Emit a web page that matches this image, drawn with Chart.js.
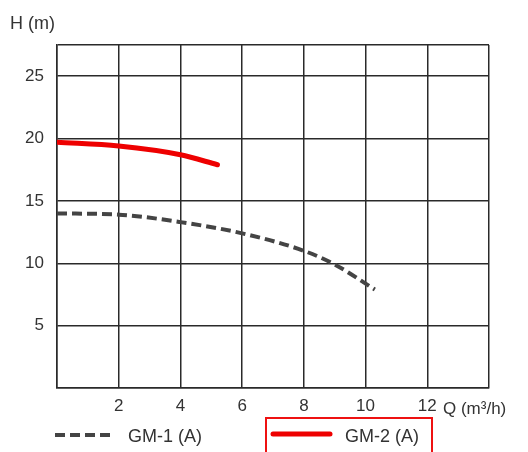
<!DOCTYPE html>
<html>
<head>
<meta charset="utf-8">
<script src="https://cdn.jsdelivr.net/npm/chart.js@4/dist/chart.umd.min.js"></script>
<style>
  html, body { margin: 0; padding: 0; background: #fff; }
  #wrap { width: 528px; height: 452px; position: relative; }
</style>
</head>
<body>
<div id="wrap"><canvas id="c" width="528" height="452"></canvas></div>
<script>
// pump curves, Q (m3/h) vs H (m)
const gm1Q = [0, 2, 4, 6, 8, 9, 10.3];
const gm1H = [14.0, 13.9, 13.3, 12.4, 11.0, 9.9, 7.9];
const gm2Q = [0, 2, 4, 5.2];
const gm2H = [19.7, 19.4, 18.7, 17.9];
const seriesNames = ['GM-1 (A)', 'GM-2 (A)'];
const xTicks = [2, 4, 6, 8, 10, 12];
const yTicks = [5, 10, 15, 20, 25];

const GRID = '#2a2a2a';
const TXT = '#333';
const FONT = '"Liberation Sans", Arial, sans-serif';

const labelsPlugin = {
    id: 'labels',
    afterDraw(ch) {
        const ctx = ch.ctx;
        ctx.save();
        ctx.fillStyle = TXT;
        ctx.font = '18px ' + FONT;
        ctx.textBaseline = 'alphabetic';
        ctx.textAlign = 'left';
        ctx.fillText('H (m)', 10, 29);
        ctx.font = '17px ' + FONT;
        ctx.fillText('Q (m³/h)', 443, 414);
        ctx.font = '18px ' + FONT;

        // legend
        const ly = 435;
        ctx.strokeStyle = '#444';
        ctx.lineWidth = 4;
        ctx.setLineDash([10, 5]);
        ctx.beginPath(); ctx.moveTo(55, ly); ctx.lineTo(115, ly); ctx.stroke();
        ctx.setLineDash([]);
        ctx.fillText(seriesNames[0], 128, ly + 7);

        ctx.strokeStyle = '#ee0000';
        ctx.lineWidth = 5;
        ctx.lineCap = 'round';
        ctx.beginPath(); ctx.moveTo(273, ly - 1); ctx.lineTo(330, ly - 1); ctx.stroke();
        ctx.fillText(seriesNames[1], 345, ly + 7);

        // red frame round GM-2
        ctx.lineWidth = 2;
        ctx.lineCap = 'butt';
        ctx.strokeStyle = '#ee1111';
        ctx.strokeRect(266, 418, 166, 40);
        ctx.restore();
    }
};

new Chart(document.getElementById('c'), {
    type: 'line',
    data: {
        datasets: [
            {
                label: seriesNames[0],
                data: gm1Q.map((q, i) => ({ x: q, y: gm1H[i] })),
                borderColor: '#444',
                borderWidth: 4,
                borderDash: [10, 5],
                pointRadius: 0,
                cubicInterpolationMode: 'monotone'
            },
            {
                label: seriesNames[1],
                data: gm2Q.map((q, i) => ({ x: q, y: gm2H[i] })),
                borderColor: '#ee0000',
                borderWidth: 5,
                borderCapStyle: 'round',
                pointRadius: 0,
                cubicInterpolationMode: 'monotone'
            }
        ]
    },
    options: {
        responsive: false,
        animation: false,
        layout: { padding: { left: 0, right: 39, top: 45, bottom: 0 } },
        scales: {
            x: {
                type: 'linear',
                min: 0, max: 14,
                afterFit: s => { s.height = 64; },
                grid: { color: GRID, lineWidth: 1.5, drawTicks: false },
                border: { color: GRID, width: 1.5 },
                ticks: {
                    stepSize: 2,
                    padding: 8,
                    color: TXT,
                    font: { size: 17, family: FONT },
                    callback: v => xTicks.includes(v) ? String(v) : ''
                }
            },
            y: {
                min: 0, max: 27.5,
                afterFit: s => { s.width = 57; },
                grid: { color: GRID, lineWidth: 1.5, drawTicks: false },
                border: { color: GRID, width: 1.5 },
                ticks: {
                    stepSize: 5,
                    padding: 13,
                    color: TXT,
                    font: { size: 17, family: FONT },
                    callback: v => yTicks.includes(v) ? String(v) : ''
                }
            }
        },
        plugins: {
            legend: { display: false },
            tooltip: { enabled: false }
        }
    },
    plugins: [labelsPlugin]
});
</script>
</body>
</html>
